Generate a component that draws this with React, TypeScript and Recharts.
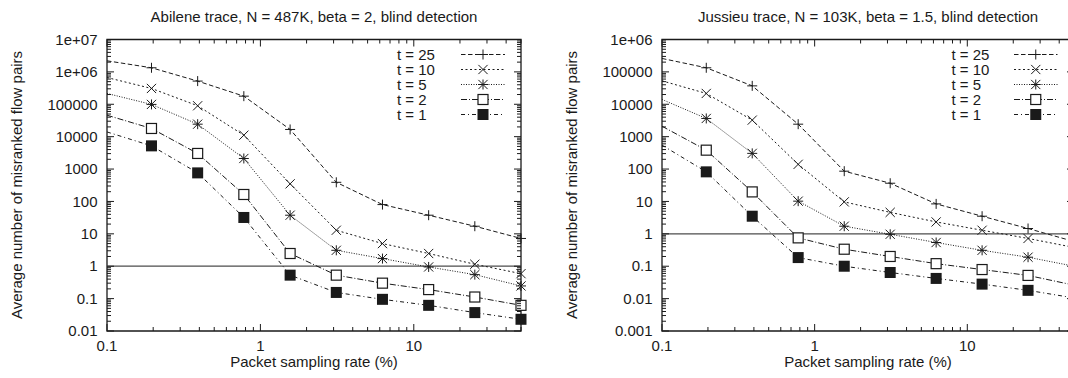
import { Line, LineChart, ReferenceArea, ReferenceLine, XAxis, YAxis } from "recharts";

// packet sampling rates (%); the first value is where the curves enter the plot
const rates = [0.1, 0.195, 0.39, 0.78, 1.5625, 3.125, 6.25, 12.5, 25, 50];

// Abilene trace
const abileneT25 = [2.2e6, 1.34e6, 5.2e5, 1.78e5, 1.67e4, 390, 80, 37.6, 17.2, 7.2];
const abileneT10 = [6.7e5, 3.08e5, 9.0e4, 1.11e4, 350, 12.9, 5.0, 2.47, 1.15, 0.59];
const abileneT5 = [2.16e5, 9.9e4, 2.43e4, 2120, 37.6, 3.1, 1.72, 0.95, 0.55, 0.246];
const abileneT2 = [4.6e4, 1.79e4, 3030, 164, 2.47, 0.53, 0.3, 0.19, 0.112, 0.062];
const abileneT1 = [1.4e4, 5200, 762, 32, 0.53, 0.155, 0.095, 0.062, 0.037, 0.023];

// Jussieu trace
const jussieuT25 = [2.6e5, 1.34e5, 3.7e4, 2430, 86, 36.5, 8.4, 3.5, 1.46, 0.58];
const jussieuT10 = [5.3e4, 2.16e4, 3240, 140, 9.7, 4.6, 2.33, 1.29, 0.72, 0.38];
const jussieuT5 = [1.41e4, 3650, 305, 10.2, 1.72, 0.97, 0.54, 0.31, 0.19, 0.1];
const jussieuT2 = [2100, 383, 19.7, 0.75, 0.335, 0.2, 0.12, 0.079, 0.052, 0.026];
const jussieuT1 = [547, 82, 3.5, 0.185, 0.1, 0.064, 0.042, 0.028, 0.018, 0.0105];

const seriesLabels = ["t = 25", "t = 10", "t = 5", "t = 2", "t = 1"];

const xMajor = [0.1, 1, 10];
const xLabels = ["0.1", "1", "10"];
const abileneYMajor = [0.01, 0.1, 1, 10, 100, 1000, 10000, 100000, 1e6, 1e7];
const abileneYLabels = ["0.01", "0.1", "1", "10", "100", "1000", "10000", "100000", "1e+06", "1e+07"];
const jussieuYMajor = [0.001, 0.01, 0.1, 1, 10, 100, 1000, 10000, 100000, 1e6];
const jussieuYLabels = ["0.001", "0.01", "0.1", "1", "10", "100", "1000", "10000", "100000", "1e+06"];

const X_DOMAIN: [number, number] = [0.1, 50];
const PLOT_TOP = 39.5;
const INK = "#1a1a1a";
const FONT = "'Liberation Sans', Arial, Helvetica, sans-serif";
const FS = 15;

type Kind = "plus" | "cross" | "star" | "square" | "filled";
const kinds: Kind[] = ["plus", "cross", "star", "square", "filled"];
const dashes = ["4.5 2.5", "2 2.5", "1 1.5", "6 2 1 2", "4 3 1 3"];

function withMinors(major: number[], lo: number, hi: number) {
  const out: number[] = [];
  major.forEach((m) => {
    for (let k = 1; k <= 9; k++) {
      const v = m * k;
      if (v >= lo * 0.999 && v <= hi * 1.001) out.push(Number(v.toPrecision(6)));
    }
  });
  return out;
}

function Marker({ cx, cy, kind }: { cx: number; cy: number; kind: Kind }) {
  const s = 5;
  const d = 4.6;
  if (kind === "plus")
    return <path d={`M${cx - s},${cy}H${cx + s}M${cx},${cy - s}V${cy + s}`} stroke={INK} strokeWidth={1} fill="none" />;
  if (kind === "cross")
    return (
      <path
        d={`M${cx - d},${cy - d}L${cx + d},${cy + d}M${cx - d},${cy + d}L${cx + d},${cy - d}`}
        stroke={INK}
        strokeWidth={1}
        fill="none"
      />
    );
  if (kind === "star")
    return (
      <path
        d={`M${cx - s},${cy}H${cx + s}M${cx},${cy - s}V${cy + s}M${cx - d},${cy - d}L${cx + d},${cy + d}M${cx - d},${cy + d}L${cx + d},${cy - d}`}
        stroke={INK}
        strokeWidth={1}
        fill="none"
      />
    );
  if (kind === "square")
    return <rect x={cx - 5} y={cy - 5} width={10} height={10} stroke={INK} strokeWidth={1.2} fill="#fff" />;
  return <rect x={cx - 5.5} y={cy - 5.5} width={11} height={11} fill={INK} />;
}

function makeXTick() {
  return (props: any) => {
    const { x, y, payload } = props;
    const v = payload.value as number;
    const idx = xMajor.findIndex((m) => Math.abs(m - v) / m < 1e-6);
    const len = idx >= 0 ? 7 : 4;
    return (
      <g>
        <line x1={x} x2={x} y1={y} y2={y - len} stroke={INK} strokeWidth={1} />
        <line x1={x} x2={x} y1={PLOT_TOP} y2={PLOT_TOP + len} stroke={INK} strokeWidth={1} />
        {idx >= 0 && (
          <text x={x} y={y + 15} dy="0.35em" textAnchor="middle" fontSize={FS} fontFamily={FONT} fill={INK}>
            {xLabels[idx]}
          </text>
        )}
      </g>
    );
  };
}

function makeYTick(major: number[], labels: string[], plotRight: number) {
  return (props: any) => {
    const { x, y, payload } = props;
    const v = payload.value as number;
    const idx = major.findIndex((m) => Math.abs(m - v) / m < 1e-6);
    const len = idx >= 0 ? 7 : 4;
    return (
      <g>
        <line x1={x} x2={x + len} y1={y} y2={y} stroke={INK} strokeWidth={1} />
        <line x1={plotRight} x2={plotRight - len} y1={y} y2={y} stroke={INK} strokeWidth={1} />
        {idx >= 0 && (
          <text x={x - 9.5} y={y} dy="0.35em" textAnchor="end" fontSize={FS} fontFamily={FONT} fill={INK}>
            {labels[idx]}
          </text>
        )}
      </g>
    );
  };
}

type PanelProps = {
  series: number[][];
  yMajor: number[];
  yLabels: string[];
  width: number;
  axisWidth: number;
  marginRight: number;
};

function Panel({ series, yMajor, yLabels, width, axisWidth, marginRight }: PanelProps) {
  const yDomain: [number, number] = [yMajor[0], yMajor[yMajor.length - 1]];
  const plotRight = width - marginRight;
  return (
    <LineChart width={width} height={378} margin={{ top: PLOT_TOP, right: marginRight, bottom: 0, left: 0 }}>
      <XAxis
        dataKey="x"
        type="number"
        scale="log"
        domain={X_DOMAIN}
        ticks={withMinors(xMajor, X_DOMAIN[0], X_DOMAIN[1])}
        interval={0}
        tick={makeXTick()}
        tickLine={false}
        axisLine={false}
        tickSize={0}
        tickMargin={0}
        height={47}
      />
      <YAxis
        type="number"
        scale="log"
        domain={yDomain}
        ticks={withMinors(yMajor, yDomain[0], yDomain[1])}
        interval={0}
        tick={makeYTick(yMajor, yLabels, plotRight)}
        tickLine={false}
        axisLine={false}
        tickSize={0}
        tickMargin={0}
        width={axisWidth}
      />
      <ReferenceLine y={1} stroke="#4d4d4d" strokeWidth={1.3} />
      {series.map((vals, i) => (
        <Line
          key={seriesLabels[i]}
          data={rates.map((x, j) => ({ x, y: vals[j] }))}
          dataKey="y"
          type="linear"
          stroke={INK}
          strokeWidth={1}
          strokeDasharray={dashes[i]}
          isAnimationActive={false}
          dot={(p: any) =>
            p.payload.x <= X_DOMAIN[0] ? (
              <g key={`d${i}-${p.index}`} />
            ) : (
              <Marker key={`d${i}-${p.index}`} cx={p.cx} cy={p.cy} kind={kinds[i]} />
            )
          }
          activeDot={false}
        />
      ))}
      <ReferenceArea
        x1={X_DOMAIN[0]}
        x2={X_DOMAIN[1]}
        y1={yDomain[0]}
        y2={yDomain[1]}
        fill="none"
        fillOpacity={0}
        stroke={INK}
        strokeWidth={1.3}
      />
    </LineChart>
  );
}

function LegendBlock({ textX, lineX1, lineX2 }: { textX: number; lineX1: number; lineX2: number }) {
  const mid = (lineX1 + lineX2) / 2;
  return (
    <g>
      {seriesLabels.map((lab, i) => {
        const y = 54.5 + i * 15;
        return (
          <g key={lab}>
            <text x={textX} y={y} dy="0.35em" fontSize={FS} fontFamily={FONT} fill={INK}>
              {lab}
            </text>
            <line x1={lineX1} x2={lineX2} y1={y} y2={y} stroke={INK} strokeWidth={1} strokeDasharray={dashes[i]} />
            <Marker cx={mid} cy={y} kind={kinds[i]} />
          </g>
        );
      })}
    </g>
  );
}

export default function App() {
  return (
    <div
      style={{
        position: "absolute",
        left: 0,
        top: 0,
        width: 1068,
        height: 378,
        overflow: "hidden",
        background: "#fff",
        fontFamily: FONT,
      }}
    >
      <div style={{ position: "absolute", left: 0, top: 0 }}>
        <Panel
          series={[abileneT25, abileneT10, abileneT5, abileneT2, abileneT1]}
          yMajor={abileneYMajor}
          yLabels={abileneYLabels}
          width={534}
          axisWidth={107}
          marginRight={13}
        />
      </div>
      <div style={{ position: "absolute", left: 534, top: 0 }}>
        <Panel
          series={[jussieuT25, jussieuT10, jussieuT5, jussieuT2, jussieuT1]}
          yMajor={jussieuYMajor}
          yLabels={jussieuYLabels}
          width={552}
          axisWidth={128}
          marginRight={12}
        />
      </div>
      <svg width={1068} height={378} style={{ position: "absolute", left: 0, top: 0, pointerEvents: "none" }}>
        <text x={314} y={17} dy="0.35em" textAnchor="middle" fontSize={FS} fontFamily={FONT} fill={INK}>
          Abilene trace, N = 487K, beta = 2, blind detection
        </text>
        <text x={868} y={17} dy="0.35em" textAnchor="middle" fontSize={FS} fontFamily={FONT} fill={INK}>
          Jussieu trace, N = 103K, beta = 1.5, blind detection
        </text>
        <text x={314} y={362} dy="0.35em" textAnchor="middle" fontSize={FS} fontFamily={FONT} fill={INK}>
          Packet sampling rate (%)
        </text>
        <text x={868} y={362} dy="0.35em" textAnchor="middle" fontSize={FS} fontFamily={FONT} fill={INK}>
          Packet sampling rate (%)
        </text>
        <text
          transform="translate(17,185) rotate(-90)"
          dy="0.35em"
          textAnchor="middle"
          fontSize={FS}
          fontFamily={FONT}
          fill={INK}
        >
          Average number of misranked flow pairs
        </text>
        <text
          transform="translate(571.5,185) rotate(-90)"
          dy="0.35em"
          textAnchor="middle"
          fontSize={FS}
          fontFamily={FONT}
          fill={INK}
        >
          Average number of misranked flow pairs
        </text>
        <LegendBlock textX={397} lineX1={461} lineX2={505} />
        <LegendBlock textX={951.5} lineX1={1014} lineX2={1057.5} />
      </svg>
    </div>
  );
}
